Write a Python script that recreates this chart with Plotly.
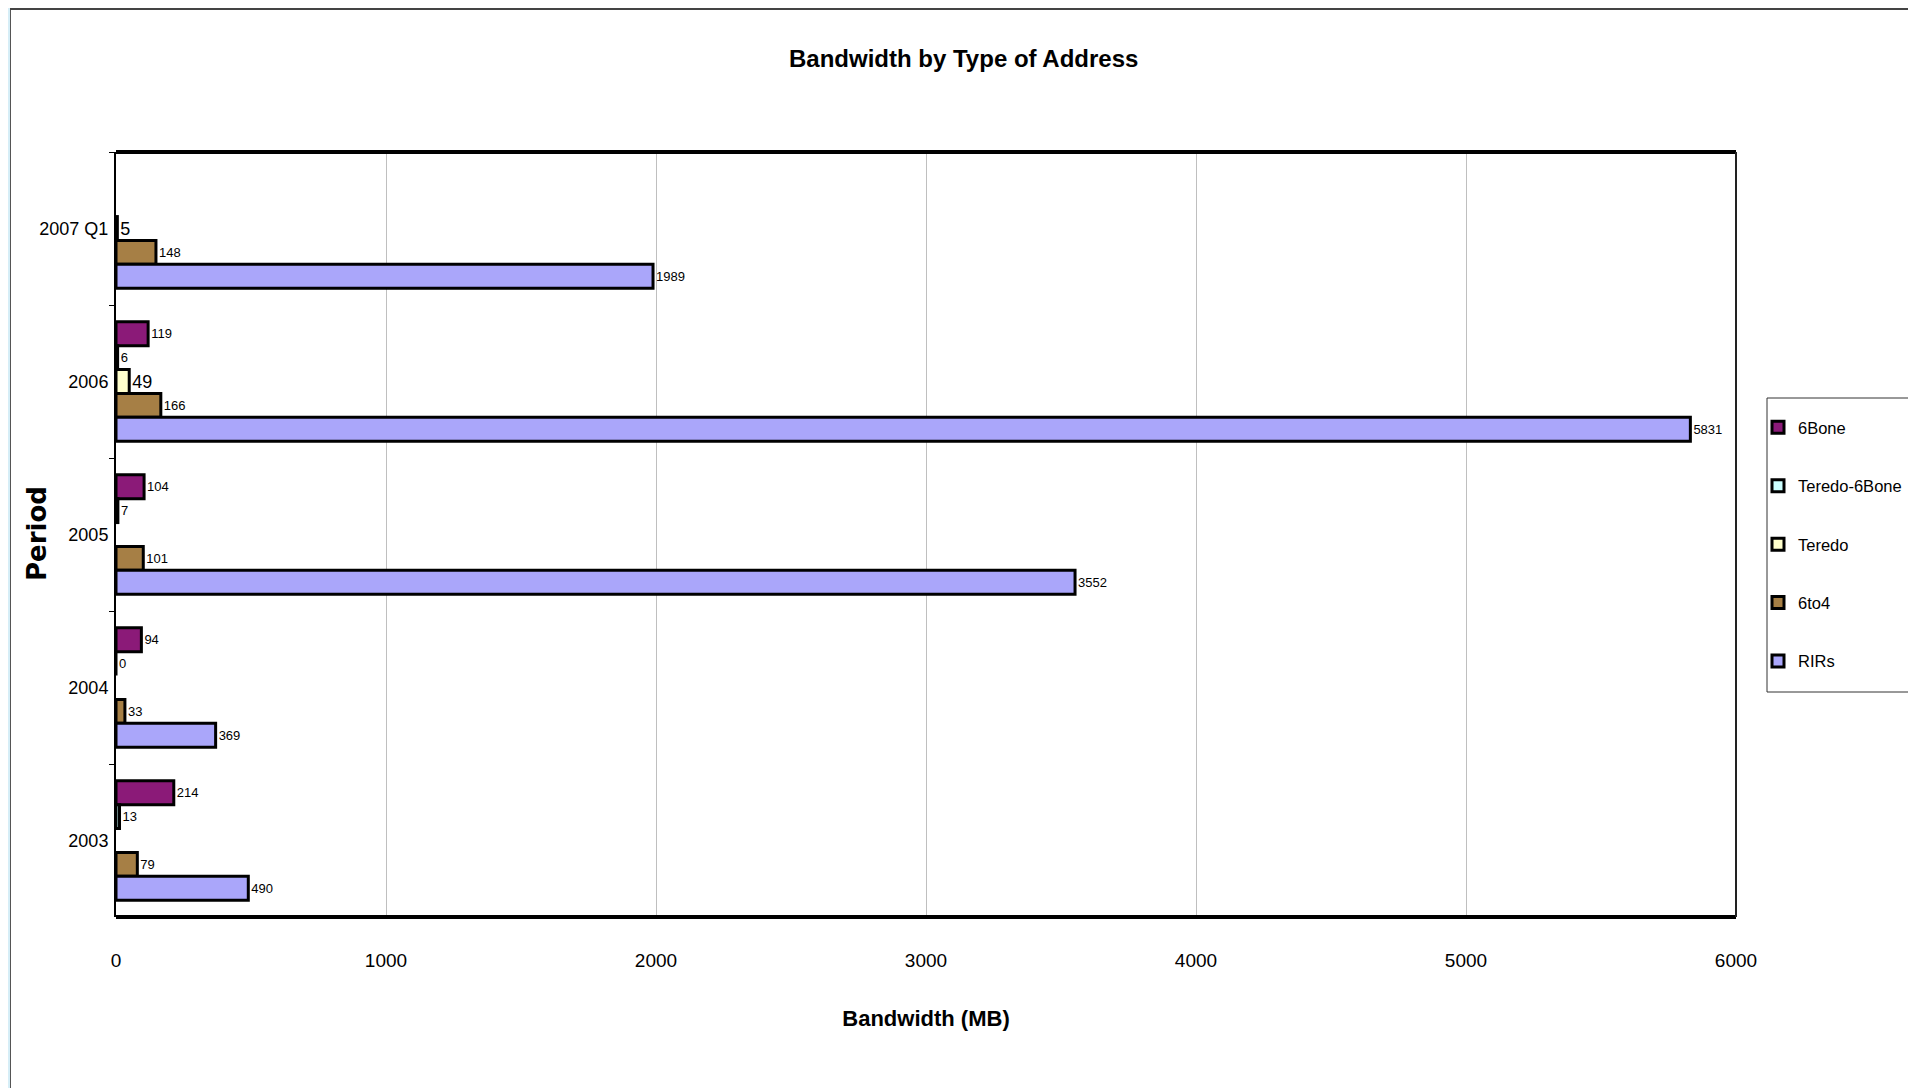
import plotly.graph_objects as go

periods = ["2003", "2004", "2005", "2006", "2007 Q1"]
series_names = ["6Bone", "Teredo-6Bone", "Teredo", "6to4", "RIRs"]
v_6bone = [214, 94, 104, 119, None]
v_teredo6bone = [13, 0, 7, 6, None]
v_teredo = [None, None, None, 49, 5]
v_6to4 = [79, 33, 101, 166, 148]
v_rirs = [490, 369, 3552, 5831, 1989]
x_ticks = [0, 1000, 2000, 3000, 4000, 5000, 6000]

colors = {
    "6Bone": "#8B1A78",
    "Teredo-6Bone": "#CCFFFF",
    "Teredo": "#FFFFCC",
    "6to4": "#A67F45",
    "RIRs": "#AAA6FA",
}
values = {
    "6Bone": v_6bone,
    "Teredo-6Bone": v_teredo6bone,
    "Teredo": v_teredo,
    "6to4": v_6to4,
    "RIRs": v_rirs,
}
label_size = {"6Bone": 13, "Teredo-6Bone": 13, "Teredo": 18, "6to4": 13, "RIRs": 13}

FONT = "Liberation Sans Narrow, Arial Narrow, Liberation Sans, Arial, sans-serif"

# page has an 8px body margin; figure is sized to fit inside the window
OFF = 8
W, H = 1916 - OFF, 1088 - OFF
L, T = 116 - OFF, 152 - OFF
R = W - (1736 - OFF)
B = H - (917 - OFF)

fig = go.Figure()
for name in series_names:
    vals = values[name]
    fig.add_trace(go.Bar(
        y=periods, x=vals, name=name, orientation="h",
        legendgroup=name,
        marker=dict(color=colors[name], line=dict(color="black", width=3)),
        text=["" if v is None else str(v) for v in vals],
        textposition="outside", cliponaxis=False,
        textfont=dict(family=FONT, size=label_size[name], color="black"),
    ))

pw = W - L - R
ph = H - T - B
def px_x(page_px):
    return (page_px - OFF - L) / pw
def px_y(page_py):
    return (H - B - (page_py - OFF)) / ph

fig.update_layout(
    width=W, height=H,
    margin=dict(l=L, r=R, t=T, b=B, autoexpand=False),
    paper_bgcolor="white", plot_bgcolor="white",
    barmode="group", bargap=0.22, bargroupgap=0,
    showlegend=True,
    legend=dict(
        x=px_x(1758), y=px_y(410), xanchor="left", yanchor="top",
        borderwidth=0, bgcolor="rgba(0,0,0,0)",
        font=dict(family=FONT, size=16.5, color="black"),
        traceorder="grouped", tracegroupgap=34,
        itemwidth=30,
    ),
    font=dict(family=FONT, color="black"),
)
fig.update_xaxes(
    range=[0, 6000], tickvals=x_ticks, ticktext=[str(t) for t in x_ticks],
    showgrid=True, gridcolor="#BFBFBF", gridwidth=1, zeroline=False,
    showline=False, ticks="", ticklabelstandoff=30,
    tickfont=dict(family=FONT, size=19, color="black"),
    title=dict(text="<b>Bandwidth (MB)</b>", font=dict(family=FONT, size=22, color="black"), standoff=40),
)
fig.update_yaxes(
    categoryorder="array", categoryarray=list(reversed(periods)),
    autorange="reversed",
    showline=True, linecolor="black", linewidth=2,
    ticks="outside", tickson="boundaries", ticklen=5, tickcolor="black",
    showgrid=False, ticklabelstandoff=2,
    tickfont=dict(family=FONT, size=18, color="black"),
)

shapes = [
    # thick top and bottom frame
    dict(type="line", xref="paper", yref="paper", x0=0, x1=1, y0=1, y1=1, line=dict(color="black", width=4)),
    dict(type="line", xref="paper", yref="paper", x0=0, x1=1, y0=0, y1=0, line=dict(color="black", width=4)),
    # right frame
    dict(type="line", xref="paper", yref="paper", x0=1, x1=1, y0=0, y1=1, line=dict(color="#222222", width=2)),
    # legend box
    dict(type="rect", xref="paper", yref="paper", x0=px_x(1767), x1=px_x(1909), y0=px_y(692), y1=px_y(398),
         line=dict(color="#333333", width=1), fillcolor="white", layer="below"),
    # window decoration: left light blue strip and border lines
    dict(type="rect", xref="paper", yref="paper", x0=px_x(OFF), x1=px_x(10), y0=px_y(1088), y1=px_y(OFF),
         fillcolor="#D6EEF7", line=dict(width=0), layer="below"),
    dict(type="line", xref="paper", yref="paper", x0=px_x(10.5), x1=px_x(10.5), y0=px_y(1088), y1=px_y(OFF),
         line=dict(color="#555555", width=1)),
    dict(type="line", xref="paper", yref="paper", x0=px_x(10), x1=px_x(1916), y0=px_y(OFF + 1), y1=px_y(OFF + 1),
         line=dict(color="#444444", width=2)),
]
fig.update_layout(shapes=shapes)

fig.add_annotation(
    text="<b>Bandwidth by Type of Address</b>", xref="paper", yref="paper",
    x=px_x(963), y=px_y(58), xanchor="center", yanchor="middle", showarrow=False,
    font=dict(family=FONT, size=24, color="black"),
)
fig.add_annotation(
    text="<b>Period</b>", xref="paper", yref="paper",
    x=px_x(37), y=px_y(534), xanchor="center", yanchor="middle", showarrow=False,
    textangle=-90, font=dict(family="DejaVu Sans, Verdana, sans-serif", size=26, color="black"),
)

fig.write_html("out.html")
